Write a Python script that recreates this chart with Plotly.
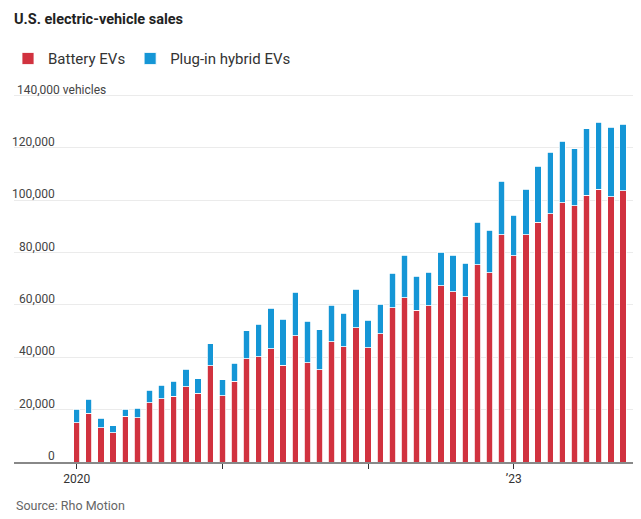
import plotly.graph_objects as go

# monthly sales, Jan 2020 - Oct 2023
months = ["2020-01", "2020-02", "2020-03", "2020-04", "2020-05", "2020-06",
          "2020-07", "2020-08", "2020-09", "2020-10", "2020-11", "2020-12",
          "2021-01", "2021-02", "2021-03", "2021-04", "2021-05", "2021-06",
          "2021-07", "2021-08", "2021-09", "2021-10", "2021-11", "2021-12",
          "2022-01", "2022-02", "2022-03", "2022-04", "2022-05", "2022-06",
          "2022-07", "2022-08", "2022-09", "2022-10", "2022-11", "2022-12",
          "2023-01", "2023-02", "2023-03", "2023-04", "2023-05", "2023-06",
          "2023-07", "2023-08", "2023-09", "2023-10"]

battery = [15000, 18550, 13000, 11200, 17400, 16900, 22600, 24150, 25050, 28750, 26200, 36750,
           25400, 30900, 39550, 40300, 43350, 36900, 48300, 38000, 35250, 45900, 44100, 51250,
           43750, 49100, 58900, 62850, 57900, 59650, 67400, 65100, 63200, 75400, 72350, 86750,
           78850, 86750, 91700, 94900, 99000, 97850, 102000, 104200, 101400, 103700]

plugin = [5200, 5450, 3800, 2650, 2800, 3700, 4900, 5250, 5850, 6750, 5600, 8400,
          6000, 6900, 10550, 12400, 15450, 17700, 16600, 15800, 15250, 14000, 12800, 14750,
          10450, 11200, 13250, 16150, 13100, 12850, 12750, 13900, 12750, 16200, 16200, 20500,
          15450, 17450, 21300, 23400, 23500, 21850, 25350, 25600, 26500, 25300]

tick_months = ["2020-01", "2021-01", "2022-01", "2023-01"]
tick_text = ["2020", "", "", "\u201923"]

y_ticks = [0, 20000, 40000, 60000, 80000, 100000, 120000, 140000]
y_text = ["0", "20,000", "40,000", "60,000", "80,000", "100,000", "120,000", "140,000 vehicles"]

red = "#d1323f"
blue = "#1596d6"
font = "Roboto"

fig = go.Figure()
fig.add_trace(go.Bar(x=months, y=battery, name="Battery EVs",
                     marker=dict(color=red, line=dict(color="white", width=0.8))))
fig.add_trace(go.Bar(x=months, y=plugin, name="Plug-in hybrid EVs",
                     marker=dict(color=blue, line=dict(color="white", width=0.8))))

# y labels sit on top of the gridlines, right aligned (top one left aligned)
for v, t in zip(y_ticks, y_text):
    top = v == y_ticks[-1]
    fig.add_annotation(x=0, xref="paper", xshift=1 if top else 43, y=v, yref="y",
                       text=t, showarrow=False, xanchor="left" if top else "right",
                       yanchor="bottom", yshift=-3,
                       font=dict(family=font, size=12, color="#444"))

fig.add_annotation(x=0, xref="paper", y=-0.119, yref="paper", xanchor="left", yanchor="middle",
                   text="Source: Rho Motion", showarrow=False,
                   font=dict(family=font, size=12.5, color="#666"))

# page body adds an 8px margin, so the figure is 8px smaller on each axis
fig.update_layout(
    width=633, height=511,
    margin=dict(l=6, r=8, t=85.4, b=56.5, autoexpand=False),
    paper_bgcolor="white", plot_bgcolor="white",
    barmode="stack", bargap=0.48,
    title=dict(text="<b>U.S. electric-vehicle sales</b>", x=0.0095, xanchor="left",
               y=0.988, yanchor="top",
               font=dict(family=font, size=14.5, color="#222")),
    legend=dict(orientation="h", xref="container", x=0.0, xanchor="left",
                yref="container", y=0.933, yanchor="top",
                traceorder="normal", font=dict(family=font, size=15, color="#333"),
                itemwidth=30),
    xaxis=dict(type="category", range=[-5.16, 45.82], tickmode="array",
               tickvals=tick_months, ticktext=tick_text,
               showline=True, linecolor="#888", linewidth=2,
               ticks="outside", ticklen=5, tickcolor="#333", tickwidth=1,
               tickfont=dict(family=font, size=12, color="#333"), showgrid=False),
    yaxis=dict(range=[0, 141000], tickvals=y_ticks, showticklabels=False,
               showgrid=True, gridcolor="#ebebeb", gridwidth=1, zeroline=False),
)

fig.write_html("out.html")
